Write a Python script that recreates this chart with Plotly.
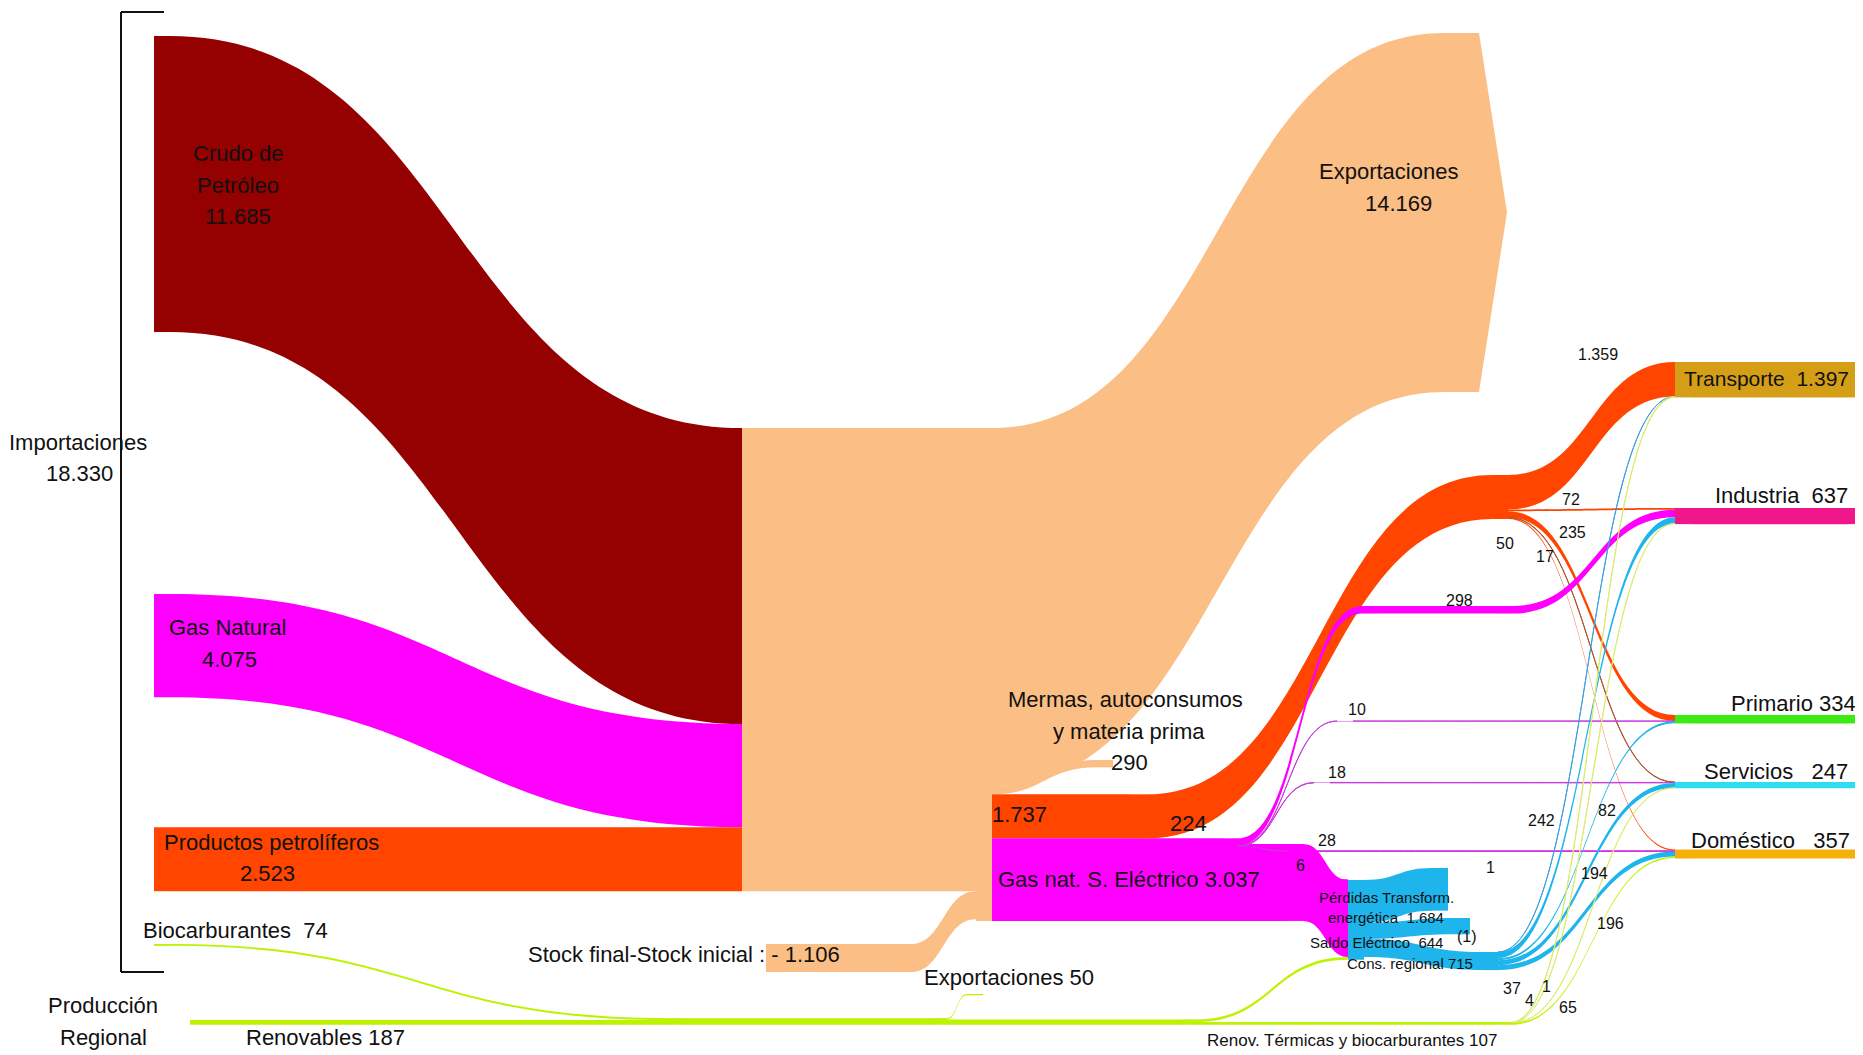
import plotly.graph_objects as go

# Balance energético regional (ktep) - diagrama de flujos

W, H = 1863, 1055
PAD = 92
GROSOR = 16
DESPL = 8          # la página deja 8 px de margen alrededor de la figura
FUENTE = "Liberation Sans, Arial, sans-serif"

# ---------------- datos ----------------
NODOS = ["crudo", "gas", "prod", "stock", "bio", "renov", "ref_in", "ref_out", "stock2",
         "rj", "rj2", "rj3", "exp_ren", "ren_ter", "exp", "mermas", "pp0", "pp",
         "gn", "gn_ind", "gn_ind2", "gn_p", "gn_s", "gn_d", "gn_se", "se",
         "perdidas", "saldo", "cons_reg",
         "transp", "indus", "prim", "serv", "domes",
         "transp_f", "indus_f", "prim_f", "serv_f", "domes_f"]

importaciones = [("crudo", "ref_in", 11685), ("gas", "ref_in", 4075), ("prod", "ref_in", 2523)]
refino = [("ref_in", "ref_out", 18283), ("stock", "stock2", 1106), ("stock2", "ref_out", 1106)]
salidas_refino = [("ref_out", "exp", 14169), ("ref_out", "mermas", 290), ("ref_out", "pp0", 1737),
                  ("ref_out", "gn", 224), ("ref_out", "gn_se", 3037)]
petroleo = [("pp0", "pp", 1737), ("pp", "transp", 1359), ("pp", "indus", 72),
            ("pp", "prim", 235), ("pp", "serv", 17), ("pp", "domes", 50)]
gas_final = [("gn", "gn_ind", 298), ("gn_ind", "gn_ind2", 298), ("gn_ind2", "indus", 298),
             ("gn", "gn_p", 10), ("gn_p", "prim", 10),
             ("gn", "gn_s", 18), ("gn_s", "serv", 18),
             ("gn", "gn_d", 28), ("gn_d", "domes", 28), ("gn", "se", 6)]
electricidad = [("gn_se", "se", 3037), ("se", "perdidas", 1684), ("se", "saldo", 644),
                ("se", "cons_reg", 715), ("cons_reg", "transp", 1), ("cons_reg", "indus", 242),
                ("cons_reg", "prim", 82), ("cons_reg", "serv", 194), ("cons_reg", "domes", 196)]
renovables = [("bio", "rj", 74), ("renov", "rj", 187), ("rj", "rj2", 261), ("rj2", "exp_ren", 50),
              ("rj2", "rj3", 211), ("rj3", "se", 104), ("rj3", "ren_ter", 107),
              ("ren_ter", "transp", 37), ("ren_ter", "indus", 4), ("ren_ter", "serv", 1),
              ("ren_ter", "domes", 65)]
consumo_final = [("transp", "transp_f", 1397), ("indus", "indus_f", 637), ("prim", "prim_f", 334),
                 ("serv", "serv_f", 247), ("domes", "domes_f", 357)]

enlaces = importaciones + refino + salidas_refino + petroleo + gas_final + electricidad + renovables + consumo_final

# ---------------- colores ----------------
MELOCOTON = "#FBBE85"
MAGENTA = "#FF00FF"
NARANJA = "#FF4500"
CIAN = "#1DB5EC"
LIMA = "#BDF200"
LILA = "#C83CDC"
color_nodo = {"crudo": "#950000", "gas": MAGENTA, "prod": NARANJA, "stock": MELOCOTON,
              "stock2": MELOCOTON, "bio": LIMA, "renov": LIMA, "ref_in": MELOCOTON,
              "ref_out": MELOCOTON, "rj": LIMA, "rj2": LIMA, "rj3": LIMA, "exp_ren": LIMA,
              "ren_ter": LIMA, "exp": MELOCOTON, "mermas": MELOCOTON, "pp0": NARANJA,
              "pp": NARANJA, "gn": MAGENTA, "gn_ind": MAGENTA, "gn_ind2": MAGENTA,
              "gn_p": LILA, "gn_s": LILA, "gn_d": "#D030E0",
              "gn_se": MAGENTA, "se": CIAN, "perdidas": CIAN, "saldo": CIAN, "cons_reg": CIAN,
              "transp": "#D49F17", "indus": "#F0178C", "prim": "#3DEB14",
              "serv": "#2EDDF2", "domes": "#F5B10A"}
for k in ["transp", "indus", "prim", "serv", "domes"]:
    color_nodo[k + "_f"] = color_nodo[k]
color_especial = {("pp", "serv"): "#B0552E", ("cons_reg", "transp"): "#3C9FE0",
                  ("ren_ter", "transp"): "#DDEB70", ("ren_ter", "indus"): "#DDEB70",
                  ("ren_ter", "serv"): "#DDEB70", ("gn", "gn_p"): LILA,
                  ("gn", "gn_s"): LILA, ("gn", "gn_d"): "#D030E0"}


# ---------------- escala (igual que d3-sankey) ----------------
def escala(claves, enl, pad, alto):
    entra = {k: 0 for k in claves}
    sale = {k: 0 for k in claves}
    for o, d, v in enl:
        sale[o] += v
        entra[d] += v
    valor = {k: max(entra[k], sale[k]) for k in claves}
    prof = {k: 0 for k in claves}
    cambio = True
    while cambio:
        cambio = False
        for o, d, v in enl:
            if prof[d] < prof[o] + 1:
                prof[d] = prof[o] + 1
                cambio = True
    cols = {}
    for k in claves:
        cols.setdefault(prof[k], []).append(k)
    ky = min((alto - (len(c) - 1) * pad) / sum(valor[k] for k in c) for c in cols.values())
    return ky, valor


KY, valor_nodo = escala(NODOS, enlaces, PAD, H)
val = {(o, d): v for o, d, v in enlaces}

# posiciones en pantalla: x del centro (px) y borde superior (px)
sup = {"crudo": 36, "gas": 594, "stock": 944, "stock2": 944, "bio": 944, "renov": 1020,
       "ref_in": 428, "ref_out": 428, "exp_ren": 994, "exp": 33, "mermas": 760,
       "pp": 475, "gn_ind": 606, "gn_ind2": 606, "se": 880, "perdidas": 868, "saldo": 918,
       "cons_reg": 952, "transp": 362, "indus": 508, "prim": 715, "serv": 782, "domes": 849.5}
sup["prod"] = sup["ref_in"] + (val[("crudo", "ref_in")] + val[("gas", "ref_in")]) * KY
sup["rj"] = sup["renov"] - val[("bio", "rj")] * KY
sup["rj2"] = sup["rj"]
sup["rj3"] = sup["rj2"] + val[("rj2", "exp_ren")] * KY
sup["ren_ter"] = sup["rj3"] + val[("rj3", "se")] * KY
sup["pp0"] = sup["ref_out"] + (val[("ref_out", "exp")] + val[("ref_out", "mermas")]) * KY
sup["gn"] = sup["pp0"] + val[("ref_out", "pp0")] * KY
sup["gn_se"] = sup["gn"] + val[("ref_out", "gn")] * KY
sup["gn_p"] = sup["prim"] + val[("pp", "prim")] * KY
sup["gn_s"] = sup["serv"] + val[("pp", "serv")] * KY
sup["gn_d"] = sup["domes"] + val[("pp", "domes")] * KY
for k in ["transp", "indus", "prim", "serv", "domes"]:
    sup[k + "_f"] = sup[k]

xc = {"crudo": 162, "gas": 162, "prod": 162, "bio": 162, "renov": 198, "stock": 774,
      "stock2": 903, "ref_in": 750, "ref_out": 984, "rj": 677, "rj2": 939, "rj3": 1188,
      "exp_ren": 975, "ren_ter": 1503, "exp": 1452, "mermas": 1105, "pp0": 1140, "pp": 1500,
      "gn": 1230, "gn_ind": 1370, "gn_ind2": 1505, "gn_p": 1345, "gn_s": 1322, "gn_d": 1298,
      "gn_se": 1295, "se": 1356, "perdidas": 1440, "saldo": 1462, "cons_reg": 1490}
for k in ["transp", "indus", "prim", "serv", "domes"]:
    xc[k] = 1683
    xc[k + "_f"] = W - GROSOR / 2


def px(x):
    return (x - DESPL) / W


def py(y):
    return 1 - (y - DESPL) / H


idx = {k: i for i, k in enumerate(NODOS)}
node_x = [px(xc[k]) for k in NODOS]
node_y = [1 - py(sup[k] + valor_nodo[k] * KY / 2) for k in NODOS]

link_colors = []
for o, d, v in enlaces:
    if (o, d) in color_especial:
        link_colors.append(color_especial[(o, d)])
    elif o == "ref_out":
        link_colors.append(color_nodo[d])
    else:
        link_colors.append(color_nodo[o])

fig = go.Figure(go.Sankey(
    arrangement="fixed",
    domain=dict(x=[0, 1], y=[0, 1]),
    hoverinfo="none",
    node=dict(
        label=["" for k in NODOS],
        x=node_x, y=node_y,
        pad=PAD, thickness=GROSOR, align="left",
        color=[color_nodo[k] for k in NODOS],
        line=dict(width=0),
        hoverinfo="none",
    ),
    link=dict(
        source=[idx[o] for o, d, v in enlaces],
        target=[idx[d] for o, d, v in enlaces],
        value=[v for o, d, v in enlaces],
        color=link_colors,
        hoverinfo="none",
    ),
))

# punta de flecha de las exportaciones: un segundo flujo con la misma escala
exp_sup = sup["exp"]
exp_inf = sup["exp"] + val[("ref_out", "exp")] * KY
fig.add_trace(go.Sankey(
    arrangement="fixed",
    domain=dict(x=[px(1450), px(1508)], y=[py(exp_inf), py(exp_sup)]),
    hoverinfo="none",
    node=dict(label=["", ""], pad=0, thickness=1, color="rgba(0,0,0,0)",
              line=dict(width=0), hoverinfo="none"),
    link=dict(source=[0], target=[1], value=[val[("ref_out", "exp")]],
              color=MELOCOTON, arrowlen=46, hoverinfo="none"),
))

# ---------------- textos ----------------
G, M, P, PP = 22, 22, 16, 15
textos = [
    ("Crudo de", 238, 154, G, "center"), ("Petróleo", 238, 185, G, "center"),
    ("11.685", 238, 216, G, "center"),
    ("Gas Natural", 227, 627, G, "center"), ("4.075", 229, 659, G, "center"),
    ("Productos petrolíferos", 162, 842, G, "left"), ("2.523", 267, 873, G, "center"),
    ("Importaciones", 78, 442, G, "center"), ("18.330", 79, 473, G, "center"),
    ("Biocarburantes  74", 141, 930, G, "left"),
    ("Producción", 103, 1005, G, "center"), ("Regional", 103, 1037, G, "center"),
    ("Renovables 187", 244, 1037, G, "left"),
    ("Stock final-Stock inicial : - 1.106", 842, 954, M, "right"),
    ("Exportaciones 50", 922, 977, G, "left"),
    ("Mermas, autoconsumos", 1125, 699, M, "center"), ("y materia prima", 1129, 731, M, "center"),
    ("290", 1129, 762, M, "center"),
    ("1.737", 990, 814, M, "left"), ("224", 1188, 823, M, "center"),
    ("Gas nat. S. Eléctrico 3.037", 996, 879, M, "left"),
    ("Exportaciones", 1388, 171, G, "center"), ("14.169", 1398, 203, G, "center"),
    ("1.359", 1598, 354, P, "center"), ("72", 1571, 499, P, "center"),
    ("235", 1572, 532, P, "center"), ("50", 1505, 543, P, "center"),
    ("17", 1545, 556, P, "center"), ("298", 1459, 600, P, "center"),
    ("10", 1357, 709, P, "center"), ("18", 1337, 772, P, "center"),
    ("28", 1327, 840, P, "center"), ("6", 1300, 865, P, "center"),
    ("1", 1490, 867, P, "center"), ("242", 1541, 820, P, "center"),
    ("82", 1607, 810, P, "center"), ("194", 1594, 873, P, "center"),
    ("196", 1610, 923, P, "center"), ("(1)", 1467, 936, P, "center"),
    ("Pérdidas Transform.", 1386, 897, PP, "center"), ("energética  1.684", 1386, 917, PP, "center"),
    ("Saldo Eléctrico  644", 1376, 942, PP, "center"), ("Cons. regional 715", 1410, 963, PP, "center"),
    ("37", 1512, 988, P, "center"), ("4", 1529, 1000, P, "center"),
    ("1", 1546, 986, P, "center"), ("65", 1568, 1007, P, "center"),
    ("Renov. Térmicas y biocarburantes 107", 1352, 1040, 17, "center"),
    ("Transporte  1.397", 1682, 379, 21, "left"),
    ("Industria  637", 1850, 495, G, "right"),
    ("Primario 334", 1858, 703, G, "right"),
    ("Servicios   247", 1850, 771, G, "right"),
    ("Doméstico   357", 1852, 840, G, "right"),
]
anotaciones = []
for t, x, y, s, a in textos:
    anotaciones.append(dict(text=t, x=px(x), y=py(y), xref="paper", yref="paper",
                            xanchor=a, yanchor="middle", showarrow=False,
                            font=dict(family=FUENTE, size=s, color="#111111")))

# llave de importaciones
llave = [(121, 12, 121, 972), (121, 12, 164, 12), (121, 972, 164, 972)]
formas = [dict(type="line", xref="paper", yref="paper", x0=px(a), y0=py(b), x1=px(c), y1=py(d),
               line=dict(color="#111111", width=2)) for a, b, c, d in llave]

fig.update_layout(width=W, height=H, margin=dict(l=0, r=0, t=0, b=0),
                  paper_bgcolor="white", plot_bgcolor="white",
                  annotations=anotaciones, shapes=formas, font=dict(family=FUENTE))

fig.write_html("out.html")
